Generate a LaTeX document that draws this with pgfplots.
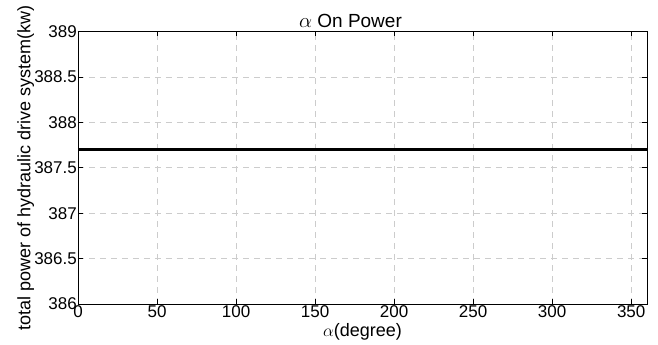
\documentclass[border=0pt]{standalone}
\usepackage{pgfplots}
\pgfplotsset{compat=1.18}
\usepackage{fontspec}
\setmainfont{Liberation Sans}
\begin{document}
\begin{tikzpicture}
\begin{axis}[
  name=ax,
  scale only axis,
  width=569bp, height=272.5bp,
  xmin=0, xmax=360, ymin=386, ymax=389,
  xtick={0,50,...,350},
  ytick={386,386.5,...,389},
  yticklabels={386,386.5,387,387.5,388,388.5,389},
  xticklabels={0,50,100,150,200,250,300,350},
  tick align=inside,
  tick pos=both,
  major tick length=5bp,
  tick style={black, line width=0.8pt},
  axis line style={black, line width=0.8pt},
  grid=major,
  grid style={gray!40, line width=0.6pt, dash pattern=on 6bp off 5bp},
  font=\fontsize{18bp}{20bp}\selectfont,
  tick label style={font=\fontsize{17bp}{19bp}\selectfont},
  /pgf/number format/assume math mode=true,
  xticklabel style={inner sep=0bp, yshift=-1bp},
  yticklabel style={inner sep=0bp, xshift=-1bp},
  title={$\alpha$ On Power},
  title style={inner sep=0bp, yshift=-2bp, xshift=-12bp, font=\fontsize{19bp}{21bp}\selectfont},
  xlabel={$\alpha$(degree)},
  xlabel style={inner sep=0bp, yshift=-6bp},
  ylabel={total power of hydraulic drive system(kw)},
  ylabel style={inner sep=0bp, yshift=0bp},
]
\addplot[black, line width=2.2pt] coordinates {(0,387.7) (360,387.7)};
\end{axis}
\pgfresetboundingbox
\useasboundingbox ([shift={(-78bp,-41bp)}]ax.south west) rectangle ([shift={(11bp,31.5bp)}]ax.north east);
\end{tikzpicture}
\end{document}
